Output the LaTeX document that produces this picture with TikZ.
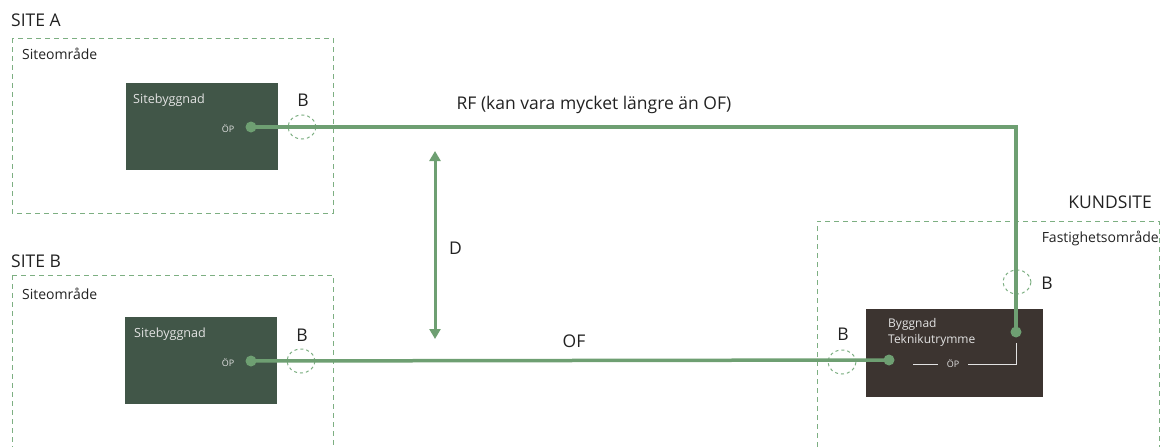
\documentclass[tikz,border=0pt]{standalone}
\usepackage{fontspec}
\setmainfont{Open Sans}
\usetikzlibrary{arrows.meta,positioning,shapes.geometric}
\definecolor{fibergreen}{HTML}{6E9F72}
\definecolor{areagreen}{HTML}{7DAF82}
\definecolor{sitefill}{HTML}{415648}
\definecolor{kundfill}{HTML}{3C3430}
\definecolor{labeltext}{HTML}{222222}
\definecolor{innertext}{HTML}{E2E2E2}

\begin{document}
\begin{tikzpicture}[x=1pt,y=-1pt,>=Triangle,font=\fontsize{14}{16}\selectfont,text=labeltext]
  \tikzstyle{area}=[draw=areagreen,line width=1pt,dash pattern=on 5pt off 4pt]
  \tikzstyle{building}=[draw=none,minimum width=152pt,minimum height=87pt,inner sep=0pt]
  \tikzstyle{sitelabel}=[anchor=base west,inner sep=0pt,font=\fontsize{17.5}{20}\selectfont]
  \tikzstyle{arealabel}=[anchor=base west,inner sep=0pt]
  \tikzstyle{inlabel}=[anchor=base west,inner sep=0pt,text=innertext,font=\fontsize{12.6}{16}\selectfont,align=left]
  \tikzstyle{optext}=[inner sep=0pt,text=innertext,font=\fontsize{9}{10}\selectfont]
  \tikzstyle{dot}=[circle,fill=fibergreen,minimum size=11pt,inner sep=0pt]
  \tikzstyle{bcirc}=[ellipse,draw=areagreen,line width=1pt,dash pattern=on 3pt off 3pt,minimum width=28pt,minimum height=24pt,inner sep=0pt]
  \tikzstyle{fiber}=[draw=fibergreen,line width=3.5pt]
  \tikzstyle{big}=[font=\fontsize{17.5}{20}\selectfont,inner sep=0pt]
  \useasboundingbox (0,0) rectangle (1160,447);

  % SITE A
  \node[sitelabel] (siteA) at (11,27) {SITE A};
  \draw[area] (12,38) rectangle (333,213);
  \node[arealabel] (omrA) at (22,59) {Siteområde};
  \node[building,fill=sitefill] (byggA) at (202,126.5) {};
  \node[inlabel] (byggAtxt) at (133,103) {Sitebyggnad};
  \node[optext] (opAtxt) at (228,129) {ÖP};
  \node[dot] (opA) at (251,127) {};
  \node[bcirc] (bA) at (302,127) {};
  \node[big,anchor=base] (bAtxt) at (303,106) {B};

  % SITE B
  \node[sitelabel] (siteB) at (11,267) {SITE B};
  \draw[area] (12,275) -- (333,275) -- (333,447);
  \draw[area] (12,275) -- (12,447);
  \node[arealabel] (omrB) at (22,299) {Siteområde};
  \node[building,fill=sitefill] (byggB) at (201,360.5) {};
  \node[inlabel] (byggBtxt) at (134,337) {Sitebyggnad};
  \node[optext] (opBtxt) at (228,363) {ÖP};
  \node[dot] (opB) at (251,361) {};
  \node[bcirc] (bB) at (301,361) {};
  \node[big,anchor=base] (bBtxt) at (302,341) {B};

  % KUNDSITE
  \node[big,anchor=base east] (kund) at (1152,208) {KUNDSITE};
  \draw[area] (817,447) -- (817,221) -- (1159,221) -- (1159,447);
  \node[arealabel,anchor=base east] (fast) at (1159,242) {Fastighetsområde};
  \node[building,fill=kundfill,minimum width=177pt,minimum height=88pt] (teknik) at (954.5,353) {};
  \node[inlabel,font=\fontsize{12}{16}\selectfont] (tekTxt) at (888,343) {Byggnad\\Teknikutrymme};
  \node[optext,inner xsep=9pt] (opKtxt) at (953,364) {ÖP};
  \coordinate (opKl) at (913,364);
  \coordinate (opKr) at (1016,364);
  \coordinate (opKu) at (1016,343);
  \draw[innertext,line width=1pt] (opKtxt.west) -- (opKl);
  \draw[innertext,line width=1pt] (opKtxt.east) -- (opKr) -- (opKu);
  \node[dot] (opKof) at (889,360) {};
  \node[dot] (opKrf) at (1016,332) {};
  \node[bcirc] (bKrf) at (1017,282) {};
  \node[big,anchor=base] (bKrftxt) at (1047,289) {B};
  \node[bcirc] (bKof) at (842,362) {};
  \node[big,anchor=base] (bKoftxt) at (843,340) {B};

  % fibrer
  \draw[fiber] (opA.center) -- (opA.center -| opKrf.center) -- (opKrf.center);
  \draw[fiber] (opB.center) -- (opKof.center);
  \node[big] (rf) at (594,105) {RF (kan vara mycket längre än OF)};
  \node[big] (of) at (574,341) {OF};

  % avstand
  \coordinate (dTop) at (435,151);
  \coordinate (dBot) at (435,339);
  \coordinate (dMid) at (435,248);
  \draw[fibergreen,line width=3pt,{Triangle[width=11pt,length=10pt]}-{Triangle[width=11pt,length=10pt]}] (dTop) -- (dBot);
  \node[big,right=14pt of dMid] (d) {D};
\end{tikzpicture}
\end{document}
